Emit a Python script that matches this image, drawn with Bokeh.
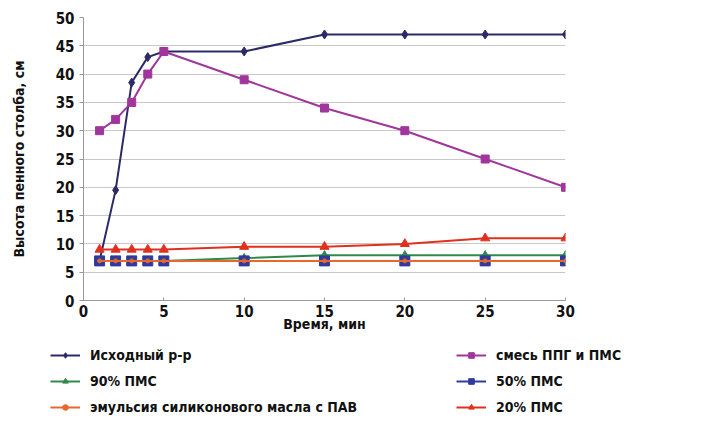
from bokeh.plotting import figure
from bokeh.models import Legend, LegendItem, Range1d, FixedTicker
from bokeh.layouts import column
from bokeh.embed import file_html
from bokeh.resources import INLINE

x = [1, 2, 3, 4, 5, 10, 15, 20, 25, 30]
ishod = [7, 19.5, 38.5, 43, 44, 44, 47, 47, 47, 47]
smes = [30, 32, 35, 40, 44, 39, 34, 30, 25, 20]
pms90 = [7, 7, 7, 7, 7, 7.5, 8, 8, 8, 8]
pms50 = [7, 7, 7, 7, 7, 7, 7, 7, 7, 7]
emul = [7, 7, 7, 7, 7, 7, 7, 7, 7, 7]
pms20 = [9, 9, 9, 9, 9, 9.5, 9.5, 10, 11, 11]
x_ticks = [0, 5, 10, 15, 20, 25, 30]
y_ticks = [0, 5, 10, 15, 20, 25, 30, 35, 40, 45, 50]

FONT = "DejaVu Sans Condensed"

p = figure(width=711, height=334, output_backend="svg", toolbar_location=None,
           x_range=Range1d(0, 30), y_range=Range1d(0, 50),
           min_border_left=83, min_border_right=146, min_border_top=17, min_border_bottom=0)
p.outline_line_color = None
p.xgrid.grid_line_color = None
p.ygrid.grid_line_color = "#c8c8c8"
p.xaxis.ticker = FixedTicker(ticks=x_ticks)
p.yaxis.ticker = FixedTicker(ticks=y_ticks)
for ax in (p.xaxis[0], p.yaxis[0]):
    ax.axis_line_color = "#999999"
    ax.major_tick_line_color = "#999999"
    ax.minor_tick_line_color = None
    ax.major_label_text_font = FONT
    ax.major_label_text_font_style = "bold"
    ax.major_label_text_font_size = "15px"
    ax.major_label_text_color = "#111111"
    ax.axis_label_text_font = FONT
    ax.axis_label_text_font_style = "bold"
    ax.axis_label_text_font_size = "14px"
    ax.axis_label_text_color = "#111111"
p.xaxis.major_tick_in = 3
p.xaxis.major_tick_out = 0
p.yaxis.major_tick_in = 0
p.yaxis.major_tick_out = 4
p.xaxis.axis_label = "Время, мин"
p.yaxis.axis_label = "Высота пенного столба, см"
p.xaxis.major_label_standoff = 4
p.xaxis.axis_label_standoff = -4
p.yaxis.axis_label_standoff = 26

series = [
    ("Исходный р-р", ishod, "#2c2a66", "diamond", 9),
    ("смесь ППГ и ПМС", smes, "#a0359c", "square", 8),
    ("90% ПМС", pms90, "#2f8a4a", "triangle", 8),
    ("50% ПМС", pms50, "#2e3a9c", "square", 10),
    ("эмульсия силиконового масла с ПАВ", emul, "#e8672c", "circle", 4),
    ("20% ПМС", pms20, "#e0301e", "triangle", 9),
]

# legend figure: same series, drawn outside its visible range, only the legend shows
lf = figure(frame_width=711, frame_height=92, output_backend="svg", toolbar_location=None,
            x_range=Range1d(100, 101), y_range=Range1d(100, 101),
            x_axis_location=None, y_axis_location=None,
            min_border_left=0, min_border_right=0, min_border_top=0, min_border_bottom=0)
lf.outline_line_color = None
lf.grid.visible = False

items = {}
for name, ys, col, mk, sz in series:
    p.line(x, ys, line_color=col, line_width=2)
    p.scatter(x, ys, marker=mk, size=sz, fill_color=col, line_color=col)
    l1 = lf.line(x, ys, line_color=col, line_width=2)
    l2 = lf.scatter(x, ys, marker=mk, size=min(sz, 7), fill_color=col, line_color=col)
    items[name] = LegendItem(label=name, renderers=[l1, l2])

order = ["Исходный р-р", "90% ПМС", "эмульсия силиконового масла с ПАВ",
         "смесь ППГ и ПМС", "50% ПМС", "20% ПМС"]
legend = Legend(items=[items[n] for n in order], nrows=3,
                label_text_font=FONT, label_text_font_style="bold",
                label_text_font_size="14px", label_width=356,
                label_text_color="#111111",
                glyph_width=30, glyph_height=14, label_height=14, label_standoff=10,
                spacing=10, padding=0, margin=0,
                border_line_color=None, background_fill_alpha=0,
                location=(50, 11))
lf.add_layout(legend, "center")

open("out.html", "w").write(file_html(column(p, lf), INLINE))
